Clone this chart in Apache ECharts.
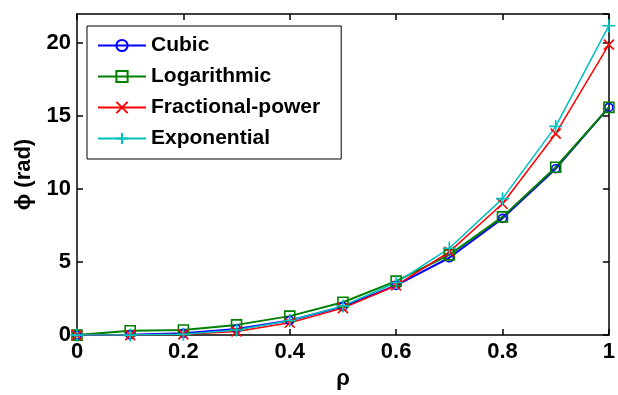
<!DOCTYPE html>
<html><head><meta charset="utf-8">
<script src="https://cdn.jsdelivr.net/npm/echarts@6/dist/echarts.min.js"></script>
<style>html,body{margin:0;padding:0;background:#fff}#c{width:618px;height:395px}</style>
</head><body><div id="c"></div>
<script>
const rho = [0, 0.1, 0.2, 0.3, 0.4, 0.5, 0.6, 0.7, 0.8, 0.9, 1.0];
const cubic = [0, 0.02, 0.12, 0.42, 1.0, 1.95, 3.4, 5.3, 8.0, 11.4, 15.6];
const logarithmic = [0, 0.3, 0.35, 0.7, 1.3, 2.25, 3.7, 5.5, 8.1, 11.5, 15.6];
const fractional = [0, 0.0, 0.05, 0.25, 0.85, 1.85, 3.4, 5.7, 9.0, 13.8, 19.9];
const exponential = [0, 0.0, 0.05, 0.35, 1.0, 2.0, 3.6, 5.95, 9.35, 14.3, 21.2];
const names = ['Cubic', 'Logarithmic', 'Fractional-power', 'Exponential'];

const font = 'Liberation Sans, Arial, sans-serif';
const pairs = arr => rho.map((r, i) => [r, arr[i]]);
function mk(name, arr, color, symbol, size, lw) {
  return {
    name, type: 'line', data: pairs(arr), symbol, symbolSize: size,
    lineStyle: { color, width: lw },
    itemStyle: { color: 'rgba(0,0,0,0)', borderColor: color, borderWidth: 1.6 },
    emphasis: { disabled: true }, animation: false
  };
}
const axisCommon = {
  axisLine: { show: true, onZero: false, lineStyle: { color: '#000', width: 1.5 } },
  axisTick: { show: true, inside: true, length: 6, lineStyle: { color: '#000', width: 1.5 } },
  splitLine: { show: false }
};
const chart = echarts.init(document.getElementById('c'));
chart.setOption({
  backgroundColor: '#fff',
  grid: { left: 77, right: 6, top: 14, bottom: 50 },
  legend: {
    orient: 'vertical', left: 87, top: 26,
    data: names,
    itemWidth: 48, itemHeight: 14, itemGap: 10,
    padding: [9, 21, 10, 10],
    borderColor: '#000', borderWidth: 1, backgroundColor: '#fff',
    textStyle: { fontFamily: font, fontSize: 21, fontWeight: 'bold', color: '#000' }
  },
  xAxis: [
    Object.assign({ type: 'value', min: 0, max: 1, interval: 0.2, position: 'bottom',
      name: 'ρ', nameLocation: 'middle', nameGap: 26,
      nameTextStyle: { fontFamily: font, fontSize: 22, fontWeight: 'bold', color: '#000' },
      axisLabel: { fontFamily: font, fontSize: 22, fontWeight: 'bold', color: '#000', margin: 6,
        formatter: v => String(+v.toFixed(1)) } }, axisCommon),
    Object.assign({ type: 'value', min: 0, max: 1, interval: 0.2, position: 'top',
      axisLabel: { show: false } }, axisCommon)
  ],
  yAxis: [
    Object.assign({ type: 'value', min: 0, max: 22, interval: 5, position: 'left',
      name: 'ϕ (rad)', nameLocation: 'middle', nameGap: 42,
      nameTextStyle: { fontFamily: font, fontSize: 22, fontWeight: 'bold', color: '#000' },
      axisLabel: { fontFamily: font, fontSize: 22, fontWeight: 'bold', color: '#000', margin: 6,
        showMaxLabel: false } }, axisCommon),
    Object.assign({ type: 'value', min: 0, max: 22, interval: 5, position: 'right',
      axisLabel: { show: false } }, axisCommon)
  ],
  series: [
    mk(names[0], cubic, '#0000ff', 'circle', 8, 2),
    mk(names[1], logarithmic, '#008000', 'rect', 10, 2),
    mk(names[2], fractional, '#ff0000', 'path://M0,0L10,10M10,0L0,10', 10, 1.5),
    mk(names[3], exponential, '#00bfbf', 'path://M5,0L5,10M0,5L10,5', 13, 1.5)
  ]
});
</script></body></html>
